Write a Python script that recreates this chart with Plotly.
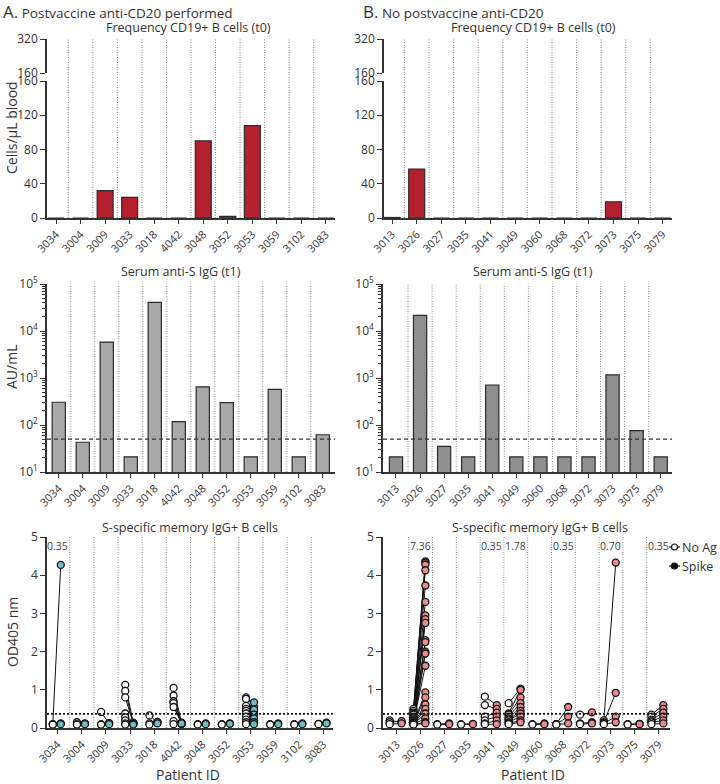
import plotly.graph_objects as go

# ---------------- data ----------------
patients_A = ["3034", "3004", "3009", "3033", "3018", "4042", "3048", "3052", "3053", "3059", "3102", "3083"]
patients_B = ["3013", "3026", "3027", "3035", "3041", "3049", "3060", "3068", "3072", "3073", "3075", "3079"]

cd19_A = [0, 0, 32, 24, 0, 0, 90, 2, 108, 0, 0, 0]
cd19_B = [0.6, 57, 0, 0, 0, 0, 0, 0, 0, 19, 0, 0]

igg_A = [305, 43, 5800, 21, 40500, 118, 650, 300, 21, 570, 21, 62]
igg_B = [21, 21500, 35, 21, 710, 21, 21, 21, 21, 1160, 76, 21]
igg_cutoff = 50

od_cutoff = 0.37

noag_A = [
    [0.10, 0.10, 0.09],
    [0.15, 0.10, 0.09],
    [0.42, 0.10, 0.09],
    [1.13, 0.97, 0.80, 0.38, 0.28, 0.20, 0.12, 0.09],
    [0.33, 0.12, 0.09],
    [1.05, 0.85, 0.70, 0.65, 0.55, 0.18, 0.10],
    [0.10, 0.09],
    [0.10, 0.09],
    [0.80, 0.76, 0.58, 0.50, 0.45, 0.38, 0.30, 0.22, 0.15, 0.10],
    [0.10, 0.09],
    [0.10, 0.09],
    [0.11, 0.10],
]
spike_A = [
    [4.27, 0.12, 0.10],
    [0.11, 0.12, 0.10],
    [0.12, 0.13, 0.10],
    [0.14, 0.12, 0.13, 0.11, 0.10, 0.12, 0.10, 0.09],
    [0.15, 0.16, 0.12],
    [0.13, 0.12, 0.14, 0.11, 0.12, 0.10, 0.12],
    [0.12, 0.10],
    [0.12, 0.11],
    [0.55, 0.67, 0.40, 0.48, 0.30, 0.35, 0.20, 0.25, 0.15, 0.10],
    [0.12, 0.10],
    [0.12, 0.10],
    [0.14, 0.12],
]
noag_B = [
    [0.20, 0.15, 0.10],
    [0.50, 0.45, 0.40, 0.38, 0.35, 0.30, 0.28, 0.25, 0.22, 0.20, 0.18,
     0.15, 0.14, 0.13, 0.12, 0.12, 0.11, 0.10, 0.10, 0.10, 0.09, 0.09],
    [0.10, 0.09],
    [0.10, 0.09],
    [0.82, 0.60, 0.30, 0.20, 0.12, 0.10],
    [0.65, 0.38, 0.35, 0.30, 0.25, 0.22, 0.20, 0.15, 0.12, 0.10],
    [0.10, 0.09],
    [0.10, 0.10, 0.09],
    [0.35, 0.12, 0.10],
    [0.20, 0.15, 0.12, 0.10],
    [0.10, 0.09],
    [0.35, 0.30, 0.22, 0.18, 0.15, 0.10],
]
spike_B = [
    [0.15, 0.18, 0.12],
    [4.36, 4.33, 4.28, 4.13, 3.73, 3.30, 2.95, 2.85, 2.75, 2.30, 2.25,
     2.00, 1.95, 1.63, 0.93, 0.80, 0.62, 0.50, 0.38, 0.25, 0.15, 0.12],
    [0.12, 0.10],
    [0.11, 0.10],
    [0.60, 0.50, 0.40, 0.30, 0.20, 0.10],
    [1.03, 1.00, 0.80, 0.65, 0.55, 0.45, 0.38, 0.30, 0.20, 0.15],
    [0.12, 0.10],
    [0.55, 0.30, 0.12],
    [0.41, 0.15, 0.12],
    [4.33, 0.92, 0.30, 0.15],
    [0.11, 0.10],
    [0.60, 0.50, 0.40, 0.30, 0.20, 0.12],
]
freq_labels_A = {"3034": "0.35"}
freq_labels_B = {"3026": "7.36", "3041": "0.35", "3049": "1.78", "3068": "0.35", "3073": "0.70", "3079": "0.35"}

# ---------------- styling ----------------
W, H = 720, 784
FONT = "Open Sans"
TXT = "#333333"
AX = "#333333"


def px_x(a, b):
    return [a / W, b / W]


def px_y(top, bottom):
    return [1 - bottom / H, 1 - top / H]


dom = {
    "topL_x": px_x(47, 335), "topR_x": px_x(384, 672),
    "midL_x": px_x(47, 335), "midR_x": px_x(383, 672),
    "botL_x": px_x(47, 333), "botR_x": px_x(383, 670),
    "top_up": px_y(39, 73), "top_lo": px_y(81, 218),
    "mid": px_y(284, 472), "bot": px_y(537, 728),
}

fig = go.Figure()

# top bars
fig.add_trace(go.Bar(x=list(range(12)), y=cd19_A, xaxis="x", yaxis="y", width=0.65,
                     marker=dict(color="#b3212f", line=dict(color="#2a2a2a", width=1.2))))
fig.add_trace(go.Bar(x=list(range(12)), y=cd19_B, xaxis="x2", yaxis="y2", width=0.65,
                     marker=dict(color="#b3212f", line=dict(color="#2a2a2a", width=1.2))))
# dummy on upper break axes
fig.add_trace(go.Bar(x=[None], y=[None], xaxis="x", yaxis="y7", hoverinfo="skip"))
fig.add_trace(go.Bar(x=[None], y=[None], xaxis="x2", yaxis="y8", hoverinfo="skip"))

# middle bars
fig.add_trace(go.Bar(x=list(range(12)), y=igg_A, xaxis="x3", yaxis="y3", width=0.55,
                     marker=dict(color="#a8a8a8", line=dict(color="#2a2a2a", width=1.2))))
fig.add_trace(go.Bar(x=list(range(12)), y=igg_B, xaxis="x4", yaxis="y4", width=0.55,
                     marker=dict(color="#8f8f8f", line=dict(color="#2a2a2a", width=1.2))))


def add_pairs(noag, spike, xa, ya, color, off_n, off_s):
    lx, ly = [], []
    nx, ny, sx, sy = [], [], [], []
    for i, (na, sp) in enumerate(zip(noag, spike)):
        for a, b in zip(na, sp):
            lx += [i + off_n, i + off_s, None]
            ly += [a, b, None]
            nx.append(i + off_n); ny.append(a)
            sx.append(i + off_s); sy.append(b)
    fig.add_trace(go.Scatter(x=lx, y=ly, xaxis=xa, yaxis=ya, mode="lines",
                             line=dict(color="#111111", width=1), cliponaxis=False, hoverinfo="skip"))
    fig.add_trace(go.Scatter(x=nx, y=ny, xaxis=xa, yaxis=ya, mode="markers", cliponaxis=False,
                             marker=dict(color="white", size=7, line=dict(color="#111111", width=1.3))))
    fig.add_trace(go.Scatter(x=sx, y=sy, xaxis=xa, yaxis=ya, mode="markers", cliponaxis=False,
                             marker=dict(color=color, size=7, line=dict(color="#111111", width=1.3))))


add_pairs(noag_A, spike_A, "x5", "y5", "#6fbcc4", -0.2, 0.13)
add_pairs(noag_B, spike_B, "x6", "y6", "#e88b8d", -0.3, 0.2)

# ---------------- axes ----------------
tickfont_x = dict(family=FONT, size=11, color=TXT)
tickfont_y = dict(family=FONT, size=12, color=TXT)


def xax(domain, anchor, rng, cats):
    return dict(domain=domain, anchor=anchor, range=rng, tickmode="array",
                tickvals=list(range(len(cats))), ticktext=cats, tickangle=-45,
                ticks="outside", ticklen=4, tickwidth=1.3, tickcolor=AX,
                showline=True, linecolor=AX, linewidth=1.5, showgrid=False,
                zeroline=False, tickfont=tickfont_x, fixedrange=True, automargin=False)


def yax(domain, anchor, rng, tickvals, ticktext=None, typ="linear"):
    d = dict(domain=domain, anchor=anchor, range=rng, tickmode="array", tickvals=tickvals,
             ticks="outside", ticklen=5, tickwidth=1.3, tickcolor=AX,
             showline=True, linecolor=AX, linewidth=1.5, showgrid=False,
             zeroline=False, tickfont=tickfont_y, type=typ, fixedrange=True, automargin=False)
    if ticktext is not None:
        d["ticktext"] = ticktext
    return d


log_vals = [10, 100, 1000, 10000, 100000]
log_text = ["10<sup>1</sup>", "10<sup>2</sup>", "10<sup>3</sup>", "10<sup>4</sup>", "10<sup>5</sup>"]

layout = dict(
    template="none",
    width=W, height=H, margin=dict(l=0, r=0, t=0, b=0, autoexpand=False),
    paper_bgcolor="white", plot_bgcolor="rgba(0,0,0,0)",
    showlegend=False, bargap=0.3,
    font=dict(family=FONT, color=TXT),
    xaxis=xax(dom["topL_x"], "y", [-0.37, 11.37], patients_A),
    yaxis=yax(dom["top_lo"], "x", [0, 160], [0, 40, 80, 120, 160]),
    yaxis7=yax(dom["top_up"], "x", [160, 320], [160, 320]),
    xaxis2=xax(dom["topR_x"], "y2", [-0.33, 11.38], patients_B),
    yaxis2=yax(dom["top_lo"], "x2", [0, 160], [0, 40, 80, 120, 160]),
    yaxis8=yax(dom["top_up"], "x2", [160, 320], [160, 320]),
    xaxis3=xax(dom["midL_x"], "y3", [-0.49, 11.51], patients_A),
    yaxis3=yax(dom["mid"], "x3", [1, 5], log_vals, log_text, "log"),
    xaxis4=xax(dom["midR_x"], "y4", [-0.54, 11.47], patients_B),
    yaxis4=yax(dom["mid"], "x4", [1, 5], log_vals, log_text, "log"),
    xaxis5=xax(dom["botL_x"], "y5", [-0.44, 11.4], patients_A),
    yaxis5=yax(dom["bot"], "x5", [0, 5], [0, 1, 2, 3, 4, 5]),
    xaxis6=xax(dom["botR_x"], "y6", [-0.58, 11.48], patients_B),
    yaxis6=yax(dom["bot"], "x6", [0, 5], [0, 1, 2, 3, 4, 5]),
)
for k in ["yaxis3", "yaxis4"]:
    layout[k]["minor"] = dict(ticks="outside", ticklen=3, tickwidth=1, tickcolor=AX, dtick="D1", showgrid=False)
fig.update_layout(**layout)

# ---------------- separators & cutoff lines ----------------
shapes = []
sep_specs = [("x", dom["top_lo"][0], dom["top_up"][1]), ("x2", dom["top_lo"][0], dom["top_up"][1]),
             ("x3", dom["mid"][0], dom["mid"][1]), ("x4", dom["mid"][0], dom["mid"][1]),
             ("x5", dom["bot"][0], dom["bot"][1]), ("x6", dom["bot"][0], dom["bot"][1])]
for xr, y0, y1 in sep_specs:
    for i in range(11):
        shapes.append(dict(type="line", xref=xr, yref="paper", x0=i + 0.5, x1=i + 0.5, y0=y0, y1=y1,
                           line=dict(color="#8c8c8c", width=1, dash="1px,1.5px"), layer="below"))
for xr, yr in [("x3", "y3"), ("x4", "y4")]:
    shapes.append(dict(type="line", xref=xr + " domain", yref=yr, x0=0, x1=1, y0=igg_cutoff, y1=igg_cutoff,
                       line=dict(color="#333333", width=1.3, dash="4px,3px")))
for xr, yr in [("x5", "y5"), ("x6", "y6")]:
    shapes.append(dict(type="line", xref=xr + " domain", yref=yr, x0=0, x1=1, y0=od_cutoff, y1=od_cutoff,
                       line=dict(color="#111111", width=1.8, dash="2px,2px")))

# manual legend
for yy, fill in [(547, "white"), (566, "#111111")]:
    yp = 1 - yy / H
    shapes.append(dict(type="line", xref="paper", yref="paper", x0=669 / W, x1=680 / W, y0=yp, y1=yp,
                       line=dict(color="#111111", width=1.2)))
    r = 3.0
    shapes.append(dict(type="circle", xref="paper", yref="paper",
                       x0=(674.5 - r) / W, x1=(674.5 + r) / W, y0=1 - (yy + r) / H, y1=1 - (yy - r) / H,
                       fillcolor=fill, line=dict(color="#111111", width=1.2)))
fig.update_layout(shapes=shapes)

# ---------------- text ----------------
ann = []


def txt(x, y, s, size=12.5, xanchor="center", textangle=0, color=TXT):
    ann.append(dict(x=x / W, y=1 - y / H, xref="paper", yref="paper", text=s, showarrow=False,
                    xanchor=xanchor, yanchor="middle", textangle=textangle,
                    font=dict(family=FONT, size=size, color=color)))


txt(1, 11, "<span style='font-size:17px'>A.</span> Postvaccine anti-CD20 performed", 13.5, "left")
txt(361, 11, "<span style='font-size:17px'>B.</span> No postvaccine anti-CD20", 13.5, "left")
txt(188, 28, "Frequency CD19+ B cells (t0)", 12.5)
txt(533, 28, "Frequency CD19+ B cells (t0)", 12.5)
txt(181, 271, "Serum anti-S IgG (t1)", 12.5)
txt(533, 271, "Serum anti-S IgG (t1)", 12.5)
txt(190, 527, "S-specific memory IgG+ B cells", 12.5)
txt(540, 527, "S-specific memory IgG+ B cells", 12.5)
txt(12, 128, "Cells/μL blood", 14, textangle=-90)
txt(12, 367, "AU/mL", 14, textangle=-90)
txt(12, 632, "OD405 nm", 14, textangle=-90)
txt(188, 774, "Patient ID", 14)
txt(533, 774, "Patient ID", 14)
txt(680, 547, "No Ag", 12.5, "left")
txt(680, 566, "Spike", 12.5, "left")

for labels, pats, xr, yr in [(freq_labels_A, patients_A, "x5", "y5"), (freq_labels_B, patients_B, "x6", "y6")]:
    for p, s in labels.items():
        ann.append(dict(x=pats.index(p), y=4.76, xref=xr, yref=yr, text=s, showarrow=False,
                        xanchor="center", yanchor="middle", font=dict(family=FONT, size=10.5, color="#444444")))

fig.update_layout(annotations=ann)
fig.write_html("out.html", config={"displayModeBar": False},
               post_script="document.body.style.margin='0';document.body.style.overflow='hidden';")
